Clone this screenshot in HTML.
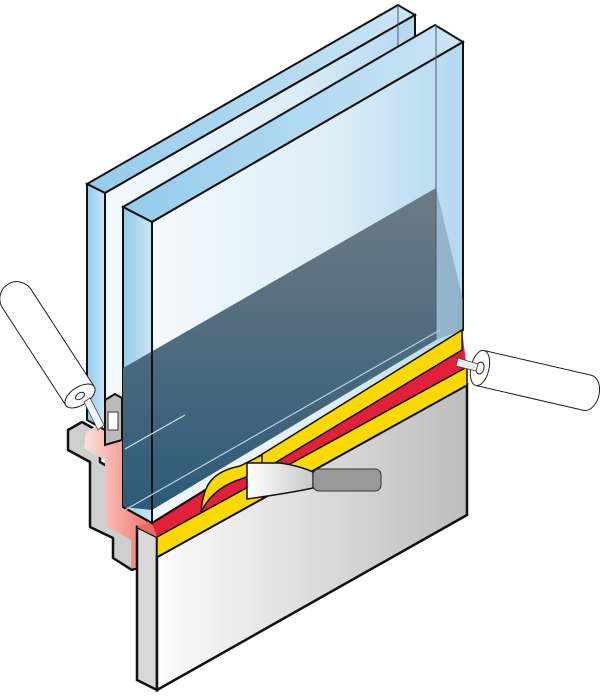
<!DOCTYPE html>
<html><head><meta charset="utf-8"><style>
html,body{margin:0;padding:0;background:#fff;width:600px;height:700px;overflow:hidden}
svg{display:block}
</style></head><body>
<svg width="600" height="700" viewBox="0 0 600 700" xmlns="http://www.w3.org/2000/svg">
<defs>
<linearGradient id="glass" x1="0" y1="0" x2="1" y2="0">
<stop offset="0" stop-color="#f4f9fd"/><stop offset="0.6" stop-color="#dcedf8"/><stop offset="1" stop-color="#b2d8f0"/>
</linearGradient>
<linearGradient id="edge" x1="0" y1="0" x2="1" y2="0">
<stop offset="0" stop-color="#94cbec"/><stop offset="1" stop-color="#cbe5f6"/>
</linearGradient>
<linearGradient id="dark" x1="0" y1="0" x2="0" y2="1">
<stop offset="0" stop-color="#6e7b86"/><stop offset="1" stop-color="#2d5a78"/>
</linearGradient>
<linearGradient id="box" x1="0" y1="0" x2="1" y2="0">
<stop offset="0" stop-color="#fcfcfc"/><stop offset="1" stop-color="#bdbdbd"/>
</linearGradient>
<linearGradient id="pink" x1="0" y1="0" x2="1" y2="0">
<stop offset="0" stop-color="#fbe1dc"/><stop offset="1" stop-color="#ee6a5e"/>
</linearGradient>
<linearGradient id="blade" x1="0" y1="0" x2="1" y2="0">
<stop offset="0" stop-color="#ffffff"/><stop offset="1" stop-color="#c9c9c9"/>
</linearGradient>
</defs>

<polygon points="68,430 82,422 100,432 100,462 122,475 135,470 137,540 137,568 132,570 113,558 113,538 90,527 90,462 68,450" fill="#cfcfcf" stroke="#111" stroke-width="2.5" stroke-linejoin="round"/>
<polygon points="86,432 100,424 122,436 122,507 152,523 157,535 137,545 137,568 131,568 131,540 105,526 105,460 84,448" fill="url(#pink)"/>

<polygon points="137,527 157,537 157,690 137,680" fill="#d8d8d8" stroke="#111" stroke-width="2.5"/>
<polygon points="157,557 467,385 467,515 157,690" fill="url(#box)" stroke="#111" stroke-width="2.5"/>
<polygon points="152,523 462,330 467,370 157,537 137,527" fill="#e3203a"/>
<polygon points="137,527 152,523 157,537" fill="#ee6a5e"/>
<polygon points="157,537 467,367 467,385 157,557" fill="#fbd800" stroke="#111" stroke-width="1.5"/>

<polygon points="87,184 398,5 415,15 105,193" fill="url(#edge)" stroke="#111" stroke-width="2"/>
<polygon points="87,184 105,193 105,430 87,420" fill="url(#edge)" stroke="#111" stroke-width="2"/>
<polygon points="105,193 415,15 415,300 105,430" fill="url(#glass)" stroke="#111" stroke-width="2"/>
<line x1="398" y1="5" x2="398" y2="300" stroke="#557" stroke-width="1"/>
<polygon points="105,400 115,394 122,398 122,440 105,445" fill="#bbb" stroke="#111" stroke-width="2"/>
<rect x="108" y="412" width="10" height="18" fill="#fff" stroke="#333"/>

<polygon points="123,207 435,25 463,42 152,222" fill="url(#edge)" stroke="#111" stroke-width="2"/>
<polygon points="123,207 152,222 152,523 123,507" fill="url(#edge)" stroke="#111" stroke-width="2"/>
<polygon points="152,222 463,42 463,330 152,523" fill="url(#glass)" stroke="#111" stroke-width="2"/>
<polygon points="123,368 436,188 436,340 152,510 123,507" fill="url(#dark)"/>
<polygon points="436,188 436,340 463,330 463,300" fill="#6f8ea3" opacity="0.5"/>
<line x1="436" y1="25" x2="436" y2="340" stroke="#557" stroke-width="1"/>
<line x1="152" y1="222" x2="152" y2="523" stroke="#111" stroke-width="2"/>
<line x1="123" y1="507" x2="152" y2="523" stroke="#111" stroke-width="2"/>
<line x1="152" y1="523" x2="463" y2="330" stroke="#111" stroke-width="2"/>
<line x1="125" y1="449" x2="185" y2="415" stroke="#cfe3ef" stroke-width="1.2"/>
<line x1="125" y1="510" x2="440" y2="330" stroke="#b9d3e2" stroke-width="1.2"/>

<!-- upper yellow + peel (over glass) -->
<polygon points="240,468 462,330 462,350 250,478" fill="#fbd800" stroke="#111" stroke-width="1.5"/>
<path d="M201,512 C203,487 210,472 240,466 L262,455 L262,468 L244,478 C224,484 210,494 201,512 Z" fill="#fbd800" stroke="#111" stroke-width="1.5"/>

<g transform="translate(80,396) rotate(-33)">
<path d="M-17,0 L-17,-116 A17,17 0 0 1 17,-116 L17,0" fill="#fff" stroke="#222" stroke-width="1"/>
<ellipse cx="0" cy="0" rx="17" ry="9" fill="#fff" stroke="#222" stroke-width="1"/>
<ellipse cx="0" cy="0" rx="5" ry="3" fill="#fff" stroke="#222" stroke-width="1"/>
</g>
<polygon points="84,402 90,398 104,425 98,430" fill="#eef4f8" stroke="#444" stroke-width="0.8"/>

<g transform="translate(480,368) rotate(13)">
<path d="M0,-18 L110,-18 A12,18 0 0 1 110,18 L0,18" fill="#fff" stroke="#222" stroke-width="1"/>
<ellipse cx="0" cy="0" rx="9" ry="18" fill="#fff" stroke="#222" stroke-width="1"/>
<ellipse cx="0" cy="0" rx="4" ry="6" fill="#fff" stroke="#222" stroke-width="1"/>
</g>
<polygon points="458,358 478,364 476,371 456,366" fill="#eee" stroke="#444" stroke-width="0.8"/>

<path d="M247,463 L280,463 Q300,466 313,472 L313,488 Q290,493 247,499 Z" fill="url(#blade)" stroke="#111" stroke-width="1.5"/>
<rect x="313" y="469" width="68" height="22" rx="6" fill="#9a9a9a" stroke="#333" stroke-width="1"/>
</svg>
</body></html>
